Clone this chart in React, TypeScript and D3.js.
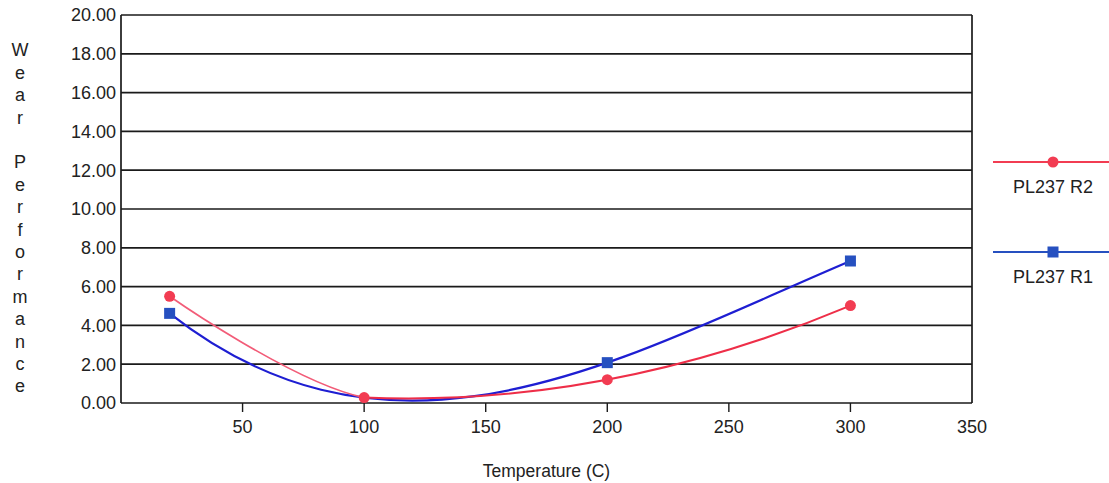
import React from "react";
import * as d3 from "d3";

const temps = [20, 100, 200, 300];
const r2Values = [5.5, 0.28, 1.2, 5.02];
const r1Values = [4.62, 0.27, 2.08, 7.32];
const yTicks = [0, 2, 4, 6, 8, 10, 12, 14, 16, 18, 20];
const xTicks = [50, 100, 150, 200, 250, 300, 350];
const yTitle = "Wear Performance";
const xTitle = "Temperature (C)";
const legendNames = ["PL237 R2", "PL237 R1"];

const W = 1109;
const H = 483;
const left = 121;
const right = 972;
const top = 15;
const bottom = 403;
const font = "'Liberation Sans', Arial, sans-serif";
const redA = "#f25c78";
const red = "#ee2e48";
const redMarker = "#f23c52";
const blue = "#1e1ed2";
const blueMarker = "#2650c0";

// Curve factory: smooth polynomial trend through all points of the line,
// drawn (as exact cubic Bezier) from point index `from` to point index `to`.
function polyCurve(from: number, to: number) {
  return (context: any) => {
    let xs: number[] = [];
    let ys: number[] = [];
    return {
      areaStart() {},
      areaEnd() {},
      lineStart() {
        xs = [];
        ys = [];
      },
      point(x: number, y: number) {
        xs.push(+x);
        ys.push(+y);
      },
      lineEnd() {
        const n = xs.length;
        if (!n) return;
        const a = ys.slice();
        for (let j = 1; j < n; j++) {
          for (let i = n - 1; i >= j; i--) {
            a[i] = (a[i] - a[i - 1]) / (xs[i] - xs[i - j]);
          }
        }
        const ev = (x: number) => {
          let p = a[n - 1];
          let dp = 0;
          for (let k = n - 2; k >= 0; k--) {
            dp = dp * (x - xs[k]) + p;
            p = p * (x - xs[k]) + a[k];
          }
          return [p, dp];
        };
        const xa = xs[from];
        const xb = xs[to < 0 ? n - 1 : to];
        const h = xb - xa;
        const [pa, da] = ev(xa);
        const [pb, db] = ev(xb);
        context.moveTo(xa, pa);
        context.bezierCurveTo(xa + h / 3, pa + (da * h) / 3, xb - h / 3, pb - (db * h) / 3, xb, pb);
      },
    };
  };
}

export default function App() {
  const x = d3.scaleLinear().domain([0, 350]).range([left, right]);
  const y = d3.scaleLinear().domain([0, 20]).range([bottom, top]);

  const red2 = temps.map((t, i) => [t, r2Values[i]] as [number, number]);
  const blue1 = temps.map((t, i) => [t, r1Values[i]] as [number, number]);

  const mk = (curve: any) =>
    d3
      .line<[number, number]>()
      .x((d) => x(d[0]))
      .y((d) => y(d[1]))
      .curve(curve);

  const bluePath = mk(polyCurve(0, -1))(blue1) || "";
  const redLeft = mk(d3.curveCatmullRom.alpha(0.5))(red2.slice(0, 3)) || "";
  const redRight = mk(polyCurve(0, -1))(red2.slice(1)) || "";

  const letters = yTitle.split("");
  const letterStep = 22.4;

  return (
    <svg
      width={W}
      height={H}
      style={{ position: "absolute", left: 0, top: 0, background: "#fff" }}
      fontFamily={font}
    >
      <defs>
        <clipPath id="clipLeft">
          <rect x={0} y={0} width={x(temps[1])} height={H} />
        </clipPath>
      </defs>
      <rect x={0} y={0} width={W} height={H} fill="#fff" />
      {yTicks.map((t) => (
        <g key={t}>
          <line x1={left} x2={right} y1={y(t)} y2={y(t)} stroke="#1a1a1a" strokeWidth={1.7} />
          <text x={116} y={y(t)} dy="0.36em" textAnchor="end" fontSize={18} fill="#222">
            {t.toFixed(2)}
          </text>
        </g>
      ))}
      <line x1={left} x2={left} y1={top} y2={bottom} stroke="#1a1a1a" strokeWidth={1.7} />
      <line x1={right} x2={right} y1={top} y2={bottom} stroke="#1a1a1a" strokeWidth={1.7} />
      {xTicks.map((t) => (
        <g key={t}>
          {t < 350 && (
            <line x1={x(t)} x2={x(t)} y1={bottom} y2={bottom + 9} stroke="#1a1a1a" strokeWidth={1.4} />
          )}
          <text x={x(t)} y={427} dy="0.36em" textAnchor="middle" fontSize={18} fill="#222">
            {t}
          </text>
        </g>
      ))}
      <text x={(left + right) / 2} y={471} dy="0.36em" textAnchor="middle" fontSize={17.5} fill="#222">
        {xTitle}
      </text>
      {letters.map((c, i) =>
        c === " " ? null : (
          <text key={i} x={20} y={50 + i * letterStep} dy="0.36em" textAnchor="middle" fontSize={18} fill="#222">
            {c}
          </text>
        )
      )}

      <path d={bluePath} fill="none" stroke={blue} strokeWidth={2.2} />
      <path d={redLeft} fill="none" stroke={redA} strokeWidth={1.7} clipPath="url(#clipLeft)" />
      <path d={redRight} fill="none" stroke={red} strokeWidth={2} />
      {blue1
        .filter((d) => d[0] !== 100)
        .map((d, i) => (
          <rect key={i} x={x(d[0]) - 5.5} y={y(d[1]) - 5.5} width={11} height={11} fill={blueMarker} />
        ))}
      {red2.map((d, i) => (
        <circle key={i} cx={x(d[0])} cy={y(d[1])} r={5.5} fill={redMarker} />
      ))}

      <line x1={993} x2={1109} y1={162} y2={162} stroke={redMarker} strokeWidth={2} />
      <circle cx={1053} cy={162} r={5.5} fill={redMarker} />
      <text x={1053} y={187} dy="0.36em" textAnchor="middle" fontSize={18} fill="#222">
        {legendNames[0]}
      </text>
      <line x1={993} x2={1109} y1={252} y2={252} stroke={blueMarker} strokeWidth={2} />
      <rect x={1047.5} y={246.5} width={11} height={11} fill={blueMarker} />
      <text x={1053} y={277} dy="0.36em" textAnchor="middle" fontSize={18} fill="#222">
        {legendNames[1]}
      </text>
    </svg>
  );
}
